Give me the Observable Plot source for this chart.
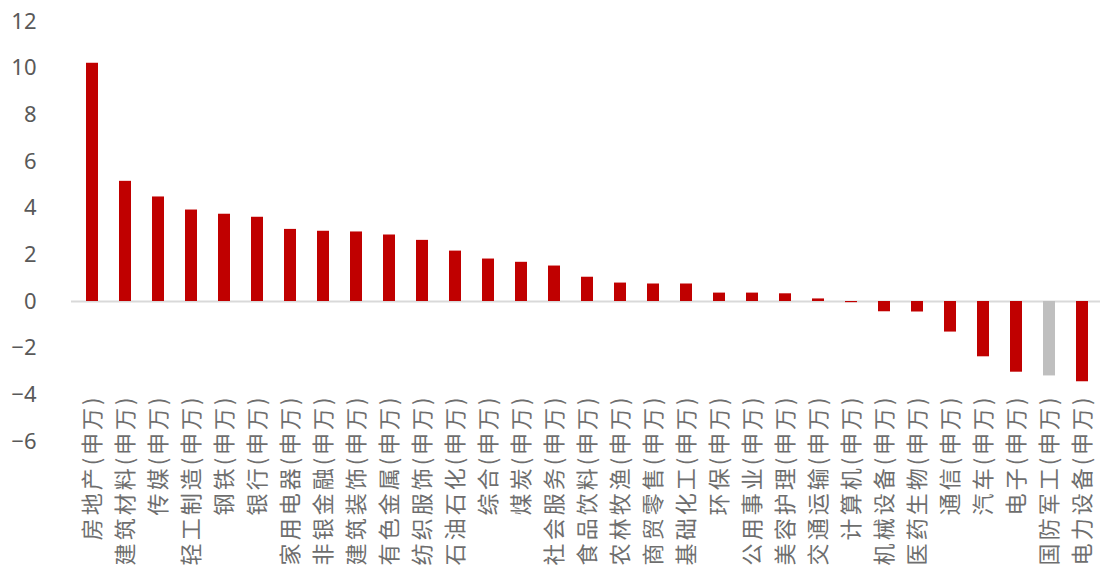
<!DOCTYPE html>
<html>
<head>
<meta charset="utf-8">
<script src="https://cdn.jsdelivr.net/npm/d3@7"></script>
<script src="https://cdn.jsdelivr.net/npm/@observablehq/plot@0.6"></script>
<style>
  html, body { margin: 0; padding: 0; background: #fff; }
  #chart { width: 1100px; height: 574px; overflow: hidden; }
</style>
</head>
<body>
<div id="chart"></div>
<script>
const categories = [
  "房地产(申万)", "建筑材料(申万)", "传媒(申万)", "轻工制造(申万)", "钢铁(申万)",
  "银行(申万)", "家用电器(申万)", "非银金融(申万)", "建筑装饰(申万)", "有色金属(申万)",
  "纺织服饰(申万)", "石油石化(申万)", "综合(申万)", "煤炭(申万)", "社会服务(申万)",
  "食品饮料(申万)", "农林牧渔(申万)", "商贸零售(申万)", "基础化工(申万)", "环保(申万)",
  "公用事业(申万)", "美容护理(申万)", "交通运输(申万)", "计算机(申万)", "机械设备(申万)",
  "医药生物(申万)", "通信(申万)", "汽车(申万)", "电子(申万)", "国防军工(申万)",
  "电力设备(申万)"
];
const values = [
  10.21, 5.15, 4.48, 3.92, 3.74,
  3.61, 3.09, 3.01, 2.98, 2.85,
  2.62, 2.16, 1.82, 1.68, 1.52,
  1.04, 0.79, 0.75, 0.75, 0.36,
  0.36, 0.33, 0.11, -0.05, -0.44,
  -0.45, -1.31, -2.37, -3.03, -3.19,
  -3.44
];
const highlighted = ["国防军工(申万)"];
const yTicks = [-6, -4, -2, 0, 2, 4, 6, 8, 10, 12];

const data = categories.map((c, i) => ({category: c, value: values[i], gray: highlighted.includes(c)}));

const chart = Plot.plot({
  width: 1100,
  height: 574,
  marginLeft: 71,
  marginRight: -3,
  marginTop: 21,
  marginBottom: 133,
  style: {background: "#fff", overflow: "visible"},
  x: {domain: categories, paddingInner: 0.65, paddingOuter: 0.325, label: null},
  y: {domain: [-6, 12], ticks: yTicks, label: null},
  marks: [
    Plot.axisY({
      ticks: yTicks, tickSize: 0, tickPadding: 35,
      fontSize: 22, fill: "#595959",
      fontFamily: "'Noto Sans', sans-serif",
      label: null
    }),
    Plot.ruleY([0], {stroke: "#d9d9d9", strokeWidth: 2}),
    Plot.barY(data, {
      x: "category", y: "value",
      fill: d => d.gray ? "#bfbfbf" : "#c00000"
    }),
    Plot.axisX({
      tickSize: 0, tickPadding: 0, tickRotate: -90, dy: -47,
      fontSize: 22, fill: "#6e6e6e",
      fontFamily: "'Noto Sans CJK SC', sans-serif",
      label: null
    })
  ]
});
chart.querySelectorAll("text").forEach(t => {
  if (/申万/.test(t.textContent)) t.style.letterSpacing = "3px";
});
document.getElementById("chart").appendChild(chart);
</script>
</body>
</html>
